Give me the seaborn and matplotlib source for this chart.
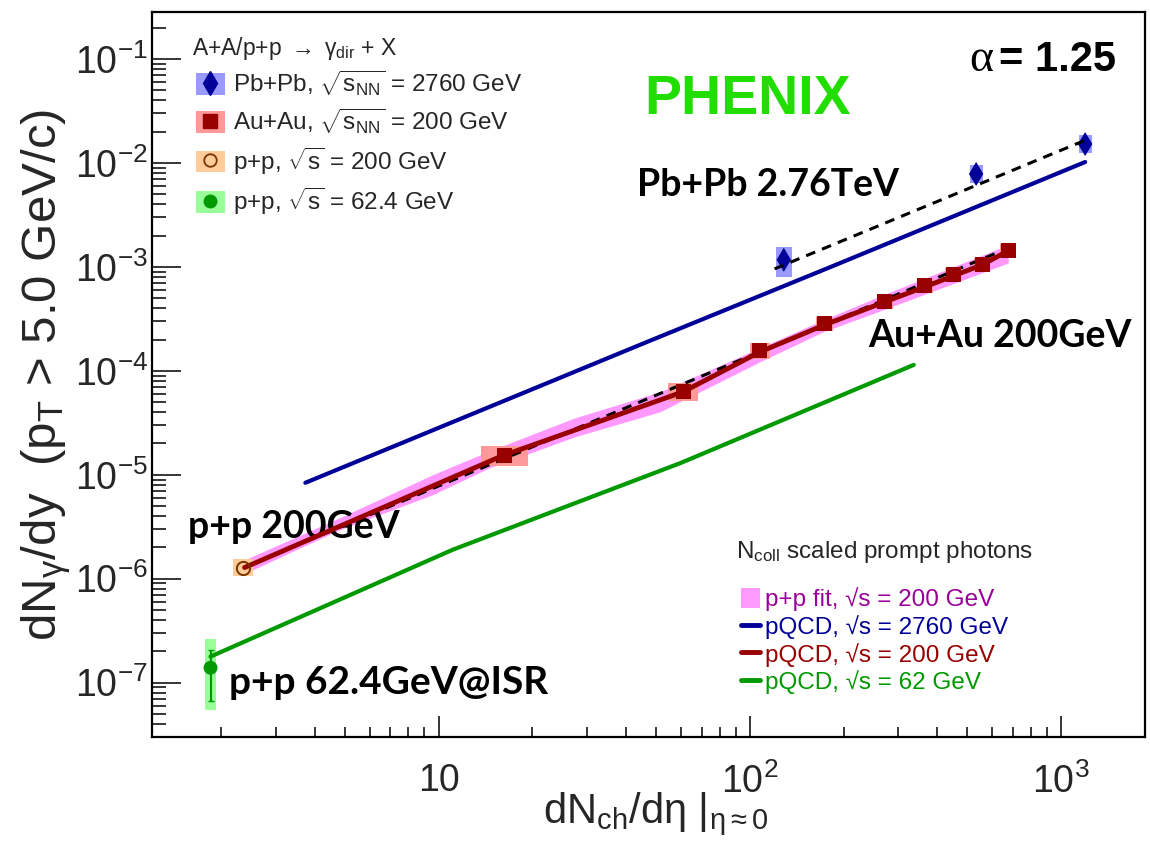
import numpy as np
import matplotlib
matplotlib.use("Agg")
import matplotlib.pyplot as plt
import seaborn as sns
from matplotlib.patches import Rectangle, Patch
from matplotlib.lines import Line2D
from matplotlib.legend_handler import HandlerTuple
from matplotlib.ticker import FixedLocator, FixedFormatter, LogLocator, NullFormatter

# ---------------- data ----------------
pbpb_x = [128.5, 533, 1194]
pbpb_y = [1.17e-3, 7.83e-3, 1.52e-2]
pbpb_box_lo = [8.0e-4, 6.4e-3, 1.25e-2]
pbpb_box_hi = [1.56e-3, 9.6e-3, 1.86e-2]
pbpb_xrel = [0.06, 0.05, 0.05]

auau_x = [16.3, 61, 107.7, 174, 271.5, 365, 450, 557, 676]
auau_y = [1.52e-5, 6.28e-5, 1.56e-4, 2.83e-4, 4.6e-4, 6.56e-4, 8.37e-4, 1.045e-3, 1.43e-3]
auau_xrel = [0.19, 0.12, 0.08, 0.065, 0.06, 0.06, 0.06, 0.06, 0.06]
auau_yrel = [0.25, 0.22, 0.19, 0.17, 0.17, 0.17, 0.17, 0.17, 0.17]

pp200_x = [2.36]
pp200_y = [1.28e-6]
pp200_xrel = [0.077]
pp200_yrel = [0.21]

pp62_x = [1.85]
pp62_y = [1.39e-7]
pp62_err_lo = [6.6e-8]
pp62_err_hi = [2.08e-7]
pp62_box_lo = [5.5e-8]
pp62_box_hi = [2.6e-7]
pp62_xrel = [0.045]

ppfit_x = [2.38, 4.81, 9.56, 14.6, 27.4, 51.4, 107.6, 171.8, 267.9, 676]
ppfit_lo = [1.12e-6, 2.96e-6, 6.42e-6, 1.17e-5, 2.32e-5, 4.03e-5, 1.22e-4, 2.37e-4, 3.86e-4, 1.09e-3]
ppfit_hi = [1.52e-6, 3.86e-6, 1.0e-5, 1.70e-5, 3.53e-5, 6.28e-5, 1.66e-4, 3.09e-4, 5.38e-4, 1.63e-3]

pqcd2760_x = [3.73, 47.6, 185, 1194]
pqcd2760_y = [8.37e-6, 1.94e-4, 1.02e-3, 1.02e-2]

pqcd200_x = [2.38, 16.0, 61, 107.7, 174, 271, 365, 450, 557, 702]
pqcd200_y = [1.28e-6, 1.52e-5, 6.28e-5, 1.52e-4, 2.77e-4, 4.6e-4, 6.43e-4, 8.18e-4, 1.045e-3, 1.52e-3]

pqcd62_x = [1.85, 11.1, 60, 336]
pqcd62_y = [1.78e-7, 1.9e-6, 1.30e-5, 1.14e-4]

aafit_x = [2.36, 706]
aafit_y = [1.28e-6, 1.6e-3]
pbfit_x = [120, 1222]
pbfit_y = [9.57e-4, 1.70e-2]

x_ticks = [10, 100, 1000]
x_ticklabels = ['10', r'$10^{2}$', r'$10^{3}$']
y_ticks = [1e-7, 1e-6, 1e-5, 1e-4, 1e-3, 1e-2, 1e-1]
y_ticklabels = [r'$10^{-7}$', r'$10^{-6}$', r'$10^{-5}$', r'$10^{-4}$', r'$10^{-3}$', r'$10^{-2}$', r'$10^{-1}$']

# ---------------- style ----------------
sns.set_theme(style="white")
plt.rcParams['font.family'] = ['Liberation Sans', 'DejaVu Sans']
plt.rcParams['mathtext.fontset'] = 'custom'
plt.rcParams['mathtext.rm'] = 'Liberation Sans'
plt.rcParams['mathtext.it'] = 'Liberation Sans:italic'
plt.rcParams['mathtext.bf'] = 'Liberation Sans:bold'
plt.rcParams['mathtext.sf'] = 'Liberation Sans'

NAVY = '#000099'
DRED = '#990000'
GREEN = '#009900'
PINK = '#ff99ff'

fig = plt.figure(figsize=(11.5, 8.47), dpi=100)
fig.patch.set_facecolor('white')
ax = fig.add_axes([0.1322, 0.1299, 0.8635, 0.8559])
ax.set_facecolor('white')
ax.set_xscale('log')
ax.set_yscale('log')
ax.set_xlim(1.2, 1860)
ax.set_ylim(3.0e-8, 0.283)

# p+p fit band
ax.fill_between(ppfit_x, ppfit_lo, ppfit_hi, color=PINK, lw=0, zorder=1)

# systematic boxes
def add_boxes(xs, ylo, yhi, xrel, color):
    for x, lo, hi, r in zip(xs, ylo, yhi, xrel):
        ax.add_patch(Rectangle((x / (1 + r), lo), x * (1 + r) - x / (1 + r), hi - lo,
                               facecolor=color, edgecolor='none', zorder=2))

add_boxes(pbpb_x, pbpb_box_lo, pbpb_box_hi, pbpb_xrel, '#9999ff')
add_boxes(auau_x, [y / (1 + r) for y, r in zip(auau_y, auau_yrel)],
          [y * (1 + r) for y, r in zip(auau_y, auau_yrel)], auau_xrel, '#ff9999')
add_boxes(pp200_x, [y / (1 + r) for y, r in zip(pp200_y, pp200_yrel)],
          [y * (1 + r) for y, r in zip(pp200_y, pp200_yrel)], pp200_xrel, '#ffcc99')
add_boxes(pp62_x, pp62_box_lo, pp62_box_hi, pp62_xrel, '#99ff99')

# alpha = 1.25 fits (partly hidden under the pQCD 200 GeV curve)
ax.plot(aafit_x, aafit_y, color='black', lw=2.2, ls=(0, (3.2, 2.4)), zorder=3.2)
ax.plot(pbfit_x, pbfit_y, color='black', lw=2.2, ls=(0, (3.2, 2.4)), zorder=6)

# pQCD curves
sns.lineplot(x=pqcd2760_x, y=pqcd2760_y, ax=ax, color=NAVY, linewidth=3.0, sort=False,
             estimator=None, legend=False, zorder=3)
sns.lineplot(x=pqcd62_x, y=pqcd62_y, ax=ax, color=GREEN, linewidth=3.0, sort=False,
             estimator=None, legend=False, zorder=3)
sns.lineplot(x=pqcd200_x, y=pqcd200_y, ax=ax, color=DRED, linewidth=3.5, sort=False,
             estimator=None, legend=False, zorder=3.5)

# data points
sns.scatterplot(x=pbpb_x, y=pbpb_y, ax=ax, marker='d', s=150, color=NAVY, edgecolor='none',
                legend=False, zorder=4)
sns.scatterplot(x=auau_x, y=auau_y, ax=ax, marker='s', s=115, color=DRED, edgecolor='none',
                legend=False, zorder=4)
ax.errorbar(pp62_x, pp62_y,
            yerr=[[y - lo for y, lo in zip(pp62_y, pp62_err_lo)],
                  [hi - y for y, hi in zip(pp62_y, pp62_err_hi)]],
            fmt='none', ecolor=GREEN, elinewidth=1.5, capsize=2, zorder=4)
sns.scatterplot(x=pp62_x, y=pp62_y, ax=ax, marker='o', s=100, color=GREEN, edgecolor='none',
                legend=False, zorder=5)
ax.plot(pp200_x, pp200_y, marker='o', ms=9.5, mfc='none', mec='#7a3300', mew=1.4,
        ls='none', zorder=5)

# ---------------- axes ----------------
for s in ax.spines.values():
    s.set_linewidth(1.6)
    s.set_color('black')
ax.xaxis.set_major_locator(FixedLocator(x_ticks))
ax.xaxis.set_major_formatter(FixedFormatter(x_ticklabels))
ax.xaxis.set_minor_locator(LogLocator(base=10, subs=np.arange(2, 10), numticks=100))
ax.xaxis.set_minor_formatter(NullFormatter())
ax.yaxis.set_major_locator(FixedLocator(y_ticks))
ax.yaxis.set_major_formatter(FixedFormatter(y_ticklabels))
ax.yaxis.set_minor_locator(LogLocator(base=10, subs=np.arange(2, 10), numticks=100))
ax.yaxis.set_minor_formatter(NullFormatter())
ax.tick_params(which='both', direction='in', top=False, right=False, left=True, bottom=True,
               color='black', width=1.1)
ax.tick_params(axis='x', which='major', length=15, pad=19, labelsize=27)
ax.tick_params(axis='x', which='minor', length=7.5)
ax.tick_params(axis='y', which='major', length=21, pad=3, labelsize=27)
ax.tick_params(axis='y', which='minor', length=10)

ax.set_ylabel(r'dN$_{\mathrm{\gamma}}$/dy  (p$_{\mathrm{T}}$ > 5.0 GeV/c)', fontsize=35.5)
ax.yaxis.set_label_coords(-0.080, 0.500)
ax.set_xlabel(r'dN$_{\mathrm{ch}}$/d$\mathrm{\eta}$ |$_{\mathrm{\eta\approx0}}$', fontsize=30)
ax.xaxis.set_label_coords(0.507, -0.074)

# ---------------- annotations ----------------
ax.text(0.600, 0.879, 'PHENIX', transform=ax.transAxes, ha='center', va='center',
        fontsize=40, fontweight='bold', color='#22dd00')
ax.text(0.835, 0.934, 'α', transform=ax.transAxes, ha='center', va='center',
        fontsize=33, family='Liberation Serif', color='black')
ax.text(0.853, 0.934, '= 1.25', transform=ax.transAxes, ha='left', va='center',
        fontsize=30, fontweight='bold', color='black')
bold_font = dict(family=['Lato', 'Liberation Sans'], fontweight='bold', fontsize=27, color='black')
ax.text(0.488, 0.761, 'Pb+Pb 2.76TeV', transform=ax.transAxes, ha='left', va='center', **bold_font)
ax.text(0.721, 0.553, 'Au+Au 200GeV', transform=ax.transAxes, ha='left', va='center', **bold_font)
ax.text(0.036, 0.290, 'p+p 200GeV', transform=ax.transAxes, ha='left', va='center', **bold_font)
ax.text(0.0775, 0.0745, 'p+p 62.4GeV@ISR', transform=ax.transAxes, ha='left', va='center',
        family=['Lato', 'Liberation Sans'], fontweight='bold', fontsize=28, color='black')

# ---------------- legends ----------------
ax.text(0.040, 0.950, r'A+A/p+p $\rightarrow$ $\mathrm{\gamma}_{\mathrm{dir}}$ + X', transform=ax.transAxes,
        ha='left', va='center', fontsize=16.5)
h1 = [
    (Patch(facecolor='#9999ff', edgecolor='none'),
     Line2D([], [], marker='d', color=NAVY, ls='none', ms=12)),
    (Patch(facecolor='#ff9999', edgecolor='none'),
     Line2D([], [], marker='s', color=DRED, ls='none', ms=10)),
    (Patch(facecolor='#ffcc99', edgecolor='none'),
     Line2D([], [], marker='o', mfc='none', mec='#7a3300', mew=1.3, ls='none', ms=9)),
    (Patch(facecolor='#99ff99', edgecolor='none'),
     Line2D([], [], marker='o', color=GREEN, ls='none', ms=9)),
]
l1 = [r'Pb+Pb, $\sqrt{\mathrm{s}_{\mathrm{NN}}}$ = 2760 GeV',
      r'Au+Au, $\sqrt{\mathrm{s}_{\mathrm{NN}}}$ = 200 GeV',
      r'p+p, $\sqrt{\mathrm{s}}$ = 200 GeV',
      r'p+p, $\sqrt{\mathrm{s}}$ = 62.4 GeV']
leg1 = ax.legend(handles=h1, labels=l1, handler_map={tuple: HandlerTuple(ndivide=1, pad=0)},
                 loc='upper left', bbox_to_anchor=(0.044, 0.922), frameon=False, fontsize=17.5,
                 handlelength=1.2, handleheight=1.0, handletextpad=0.35, labelspacing=0.37,
                 borderaxespad=0, borderpad=0)
ax.add_artist(leg1)

ax.text(0.588, 0.255, r'N$_{\mathrm{coll}}$ scaled prompt photons', transform=ax.transAxes,
        ha='left', va='center', fontsize=17.5)
h2 = [Patch(facecolor=PINK, edgecolor='none'),
      Line2D([], [], color=NAVY, lw=3.5),
      Line2D([], [], color=DRED, lw=3.5),
      Line2D([], [], color=GREEN, lw=3.5)]
l2 = ['p+p fit, √s = 200 GeV',
      'pQCD, √s = 2760 GeV',
      'pQCD, √s = 200 GeV',
      'pQCD, √s = 62 GeV']
leg2 = ax.legend(handles=h2, labels=l2, labelcolor=['#990099', NAVY, DRED, GREEN],
                 loc='upper left', bbox_to_anchor=(0.593, 0.206), frameon=False, fontsize=17.5,
                 handlelength=0.8, handleheight=0.85, handletextpad=0.2, labelspacing=0.15,
                 borderaxespad=0, borderpad=0)

fig.savefig('out.png', dpi=100, facecolor='white')
